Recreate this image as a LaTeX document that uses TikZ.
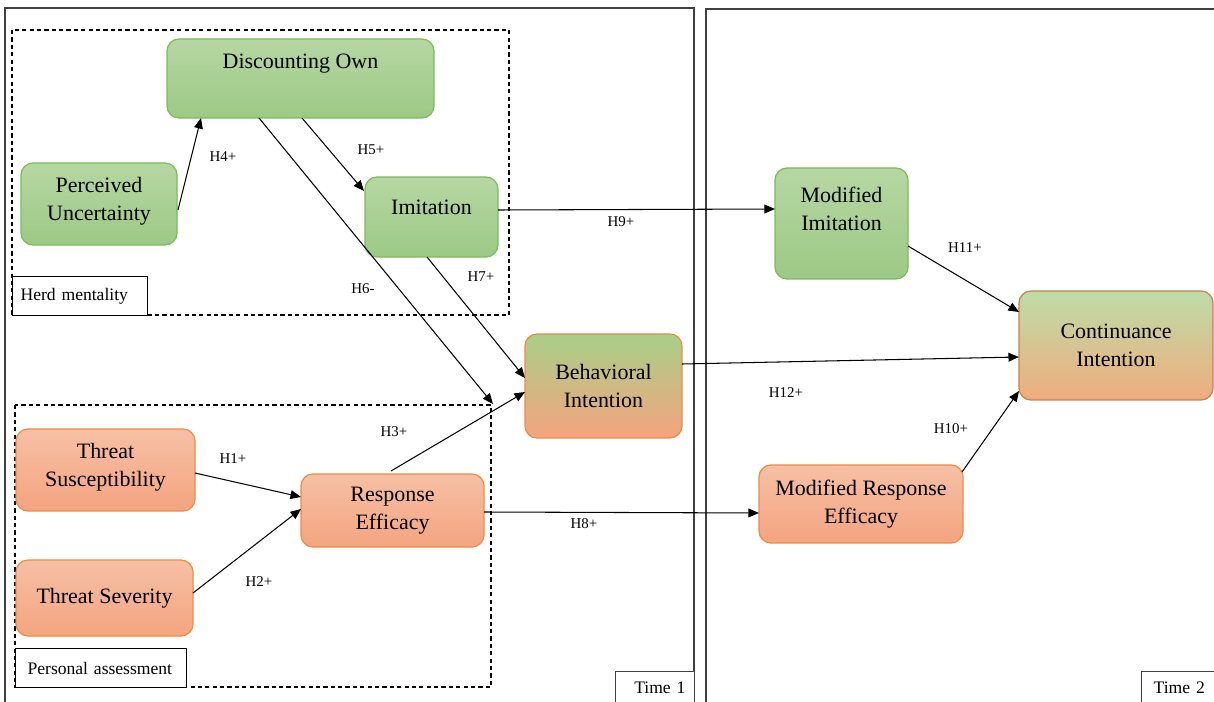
\documentclass[tikz,border=0pt]{standalone}
\usepackage{fontspec}
\setmainfont{Liberation Serif}
\usetikzlibrary{arrows.meta,calc}

\definecolor{gtop}{HTML}{B6D7A3}
\definecolor{gbot}{HTML}{9CC985}
\definecolor{gline}{HTML}{7DBA5A}
\definecolor{otop}{HTML}{F6C0A5}
\definecolor{obot}{HTML}{F4A480}
\definecolor{oline}{HTML}{EF8B45}
\definecolor{mtop}{HTML}{A8CF88}
\definecolor{mbot}{HTML}{F5A47F}
\definecolor{ctop}{HTML}{BCDDA8}
\definecolor{cbot}{HTML}{F0AC7C}
\definecolor{cline}{HTML}{C8804D}
\definecolor{framec}{HTML}{404040}

\begin{document}
\begin{tikzpicture}[x=0.02cm,y=-0.02cm,
  sz/.style 2 args={minimum width=#1*0.02cm, minimum height=#2*0.02cm},
  base/.style={rounded corners=0.24cm, inner sep=0pt, outer sep=0pt,
    line width=0.7pt, align=center, font=\fontsize{12.5}{16}\selectfont},
  txt/.style={align=center, font=\fontsize{12.5}{16}\selectfont, inner sep=0pt},
  gbox/.style={base, draw=gline, top color=gtop, bottom color=gbot},
  obox/.style={base, draw=oline, top color=otop, bottom color=obot},
  mbox/.style={base, draw=oline, top color=mtop, bottom color=mbot},
  cbox/.style={base, draw=cline, top color=ctop, bottom color=cbot},
  link/.style={draw=black, line width=0.6pt, -{Triangle[length=6pt,width=5pt]}},
  hlab/.style={font=\fontsize{8.5}{10}\selectfont, inner sep=0pt},
  frame/.style={draw=framec, line width=0.8pt},
  group/.style={draw=black, line width=0.6pt, dash pattern=on 2.4pt off 1.8pt},
  tag/.style={draw=black, line width=0.7pt, fill=white, anchor=north west,
    font=\fontsize{10}{12}\selectfont, inner ysep=0pt, align=left}
]
\path[use as bounding box] (0,0) rectangle (1214,702);
\clip (0,0) rectangle (1214,702);

% time frames
\draw[frame] (5,8) rectangle (694,720);
\draw[frame] (706,9) rectangle (1230,720);

% construct groups
\draw[group] (12,30) rectangle (509,315);
\draw[group] (15,405) rectangle (491,687);

% group and time tags
\node[tag, text width=119*0.02cm, inner xsep=8*0.02cm, minimum height=39*0.02cm] (herd) at (12,276) {Herd mentality};
\node[tag, text width=147*0.02cm, inner xsep=12*0.02cm, minimum height=39*0.02cm] (pers) at (15,648) {Personal assessment};
\node[tag, draw=framec, line width=0.8pt, text width=63*0.02cm, inner xsep=8*0.02cm, minimum height=32*0.02cm] (t1) at (615,671) {\hspace*{6pt}Time 1};
\node[tag, draw=framec, line width=0.8pt, text width=68*0.02cm, inner xsep=12*0.02cm, minimum height=32*0.02cm] (t2) at (1141,671) {Time 2};

% constructs
\node[gbox, sz={267}{79}, label={[txt, shift={(0,-14.5)}]center:Discounting Own}] (do) at (300.5,78.5) {};
\node[gbox, sz={156}{82}, label={[txt, shift={(0,-3)}]center:Perceived\\Uncertainty}] (pu) at (99,204) {};
\node[gbox, sz={133}{80}, label={[txt, shift={(0,-10)}]center:Imitation}] (im) at (431.5,217) {};
\node[obox, sz={179}{82}, label={[txt, shift={(0,-3)}]center:Threat\\Susceptibility}] (ts) at (105.5,470) {};
\node[obox, sz={177}{76}] (tsv) at (104.5,598) {Threat Severity};
\node[obox, sz={183}{73}] (re) at (392.5,510.5) {Response\\Efficacy};
\node[mbox, sz={157}{104}] (bi) at (603.5,386) {Behavioral\\Intention};
\node[gbox, sz={133}{111}, label={[txt, shift={(0,-14.5)}]center:Modified\\Imitation}] (mi) at (841.5,223.5) {};
\node[cbox, sz={194}{109}] (ci) at (1116,345.5) {Continuance\\Intention};
\node[obox, sz={204}{78}] (mre) at (861,504) {Modified Response\\Efficacy};

\coordinate (h6end) at (493,404);

% hypothesised paths
\draw[link] ($(pu.east)+(1,6)$) -- ($(do.south west)+(34,0)$);
\draw[link] ($(do.south west)+(135,0)$) -- ($(im.north west)+(-1,14)$);
\draw[link] ($(do.south west)+(92,0)$) -- (h6end);
\draw[link] ($(im.south west)+(62,0)$) -- ($(bi.west)+(0,-8)$);
\draw[link] ($(re.north)+(-1.5,-3)$) -- ($(bi.west)+(0,6)$);
\draw[link] ($(im.east)+(0,-7)$) -- ($(mi.west)+(0,-14.5)$);
\draw[link] ($(bi.east)+(0,-22)$) -- ($(ci.west)+(0,11.5)$);
\draw[link] ($(mi.east)+(0,22.5)$) -- ($(ci.west)+(0,-33.5)$);
\draw[link] ($(ts.east)+(0,3)$) -- ($(re.west)+(0,-13.5)$);
\draw[link] ($(tsv.east)+(0,-5)$) -- ($(re.west)+(0,-1.5)$);
\draw[link] ($(re.east)+(0,1.5)$) -- ($(mre.west)+(0,9)$);
\draw[link] ($(mre.north east)+(-1,7)$) -- ($(ci.south west)+(0,-9)$);

% path labels
\node[hlab] (l4) at (223,157) {H4+};
\node[hlab] (l5) at (371,150) {H5+};
\node[hlab] (l6) at (363,289) {H6-};
\node[hlab] (l7) at (481,277) {H7+};
\node[hlab] (l9) at (621,222) {H9+};
\node[hlab] (l11) at (965,248) {H11+};
\node[hlab] (l12) at (786,393) {H12+};
\node[hlab] (l10) at (951,429) {H10+};
\node[hlab] (l1) at (233,459) {H1+};
\node[hlab] (l2) at (259,582) {H2+};
\node[hlab] (l3) at (394,432) {H3+};
\node[hlab] (l8) at (584,524) {H8+};
\end{tikzpicture}
\end{document}
